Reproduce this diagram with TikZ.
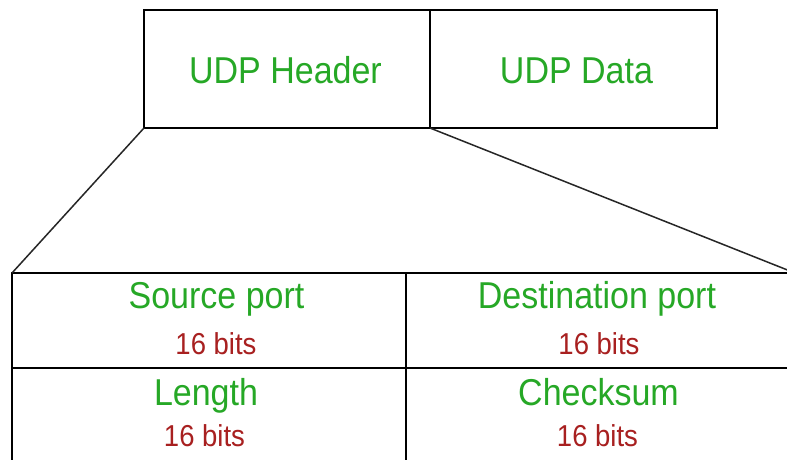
\documentclass[tikz,border=0pt]{standalone}
\usepackage{fontspec}
\setmainfont{Liberation Sans}
\definecolor{fgreen}{RGB}{38,168,38}
\definecolor{fred}{RGB}{168,32,32}
\newcommand{\tallstretch}[1]{\scalebox{1}[1.1]{#1}}
\tikzset{
  cell/.style={draw=black, line width=1.6pt, rectangle, inner sep=0pt, outer sep=0pt},
  title/.style={text=fgreen, font=\fontsize{34}{40}\selectfont, anchor=base, inner sep=0pt},
  bits/.style={text=fred, font=\fontsize{27.5}{32}\selectfont, anchor=base, inner sep=0pt},
  link/.style={draw=black!85, line width=1.5pt}
}
\begin{document}
\begin{tikzpicture}[x=1pt,y=-1pt]
\useasboundingbox (0,0) rectangle (787,460);
\clip (0,0) rectangle (787,460);
\fill[white] (0,0) rectangle (787,460);
% top boxes
\node[cell, anchor=north west, minimum width=286pt, minimum height=118pt] (hdr) at (144,10) {};
\node[cell, anchor=north west, minimum width=287pt, minimum height=118pt] (data) at (430,10) {};
% bottom table
\node[cell, anchor=north west, minimum width=394pt, minimum height=95pt] (sp) at (12,273) {};
\node[cell, anchor=north west, minimum width=389pt, minimum height=95pt] (dp) at (406,273) {};
\node[cell, anchor=north west, minimum width=394pt, minimum height=100pt] (len) at (12,368) {};
\node[cell, anchor=north west, minimum width=389pt, minimum height=100pt] (cs) at (406,368) {};
% connectors
\draw[link] (hdr.south west) -- (sp.north west);
\draw[link] (hdr.south east) -- (dp.north east);
% texts
\node[title] (t1) at (285.5,83) {\tallstretch{UDP Header}};
\node[title] (t2) at (576.5,83) {\tallstretch{UDP Data}};
\node[title] (t3) at (216.5,308) {\tallstretch{Source port}};
\node[bits] (b3) at (216,354) {\tallstretch{16 bits}};
\node[title] (t4) at (597,308) {\tallstretch{Destination port}};
\node[bits] (b4) at (599,354) {\tallstretch{16 bits}};
\node[title] (t5) at (206,405) {\tallstretch{Length}};
\node[bits] (b5) at (204.5,446) {\tallstretch{16 bits}};
\node[title] (t6) at (598.5,405) {\tallstretch{Checksum}};
\node[bits] (b6) at (597.5,446) {\tallstretch{16 bits}};
\end{tikzpicture}
\end{document}
